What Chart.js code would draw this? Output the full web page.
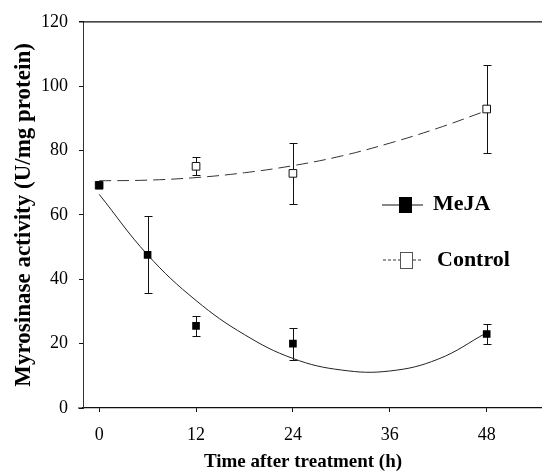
<!DOCTYPE html>
<html>
<head>
<meta charset="utf-8">
<script src="https://cdn.jsdelivr.net/npm/chart.js@4.4.0/dist/chart.umd.min.js"></script>
<style>
  body { margin: 0; background: #fff; }
  canvas { display: block; }
</style>
</head>
<body>
<canvas id="myroChart" width="542" height="472"></canvas>
<script>
// valores
const mejaTimes = [0, 6, 12, 24, 48];
const mejaValues = [69.2, 47.6, 25.5, 20, 23];
const mejaErrors = [0, 12, 3.1, 5, 3];

const controlTimes = [0, 12, 24, 48];
const controlValues = [69.2, 75.1, 72.9, 92.9];
const controlErrors = [0, 2.8, 9.4, 13.7];

// curvas de ajuste
const fitTimes = [0, 6, 12, 18, 24, 30, 36, 42, 48];
const mejaFit = [66.4, 47.6, 33.4, 22.8, 15.4, 11.8, 11.5, 15.2, 23.4];
const controlFit = [70.6, 70.8, 71.6, 73.1, 75.3, 78.3, 82.3, 87, 92.4];

const xTicks = [0, 12, 24, 36, 48];
const yTicks = [0, 20, 40, 60, 80, 100, 120];

const serif = '"Liberation Serif", "Times New Roman", serif';

function toPoints(xs, ys) {
    return xs.map((x, i) => ({ x: x, y: ys[i] }));
}

// barras de error
const errorBars = {
    id: 'errorBars',
    beforeDatasetsDraw(chart) {
        const { ctx, scales } = chart;
        const groups = [
            [controlTimes, controlValues, controlErrors],
            [mejaTimes, mejaValues, mejaErrors]
        ];
        ctx.save();
        ctx.strokeStyle = '#111';
        ctx.lineWidth = 1;
        groups.forEach(([xs, ys, es]) => {
            xs.forEach((t, i) => {
                if (!es[i]) return;
                const x = Math.round(scales.x.getPixelForValue(t)) + 0.5;
                const top = Math.round(scales.y.getPixelForValue(ys[i] + es[i])) + 0.5;
                const bot = Math.round(scales.y.getPixelForValue(ys[i] - es[i])) + 0.5;
                ctx.beginPath();
                ctx.moveTo(x, top); ctx.lineTo(x, bot);
                ctx.moveTo(x - 4, top); ctx.lineTo(x + 4, top);
                ctx.moveTo(x - 4, bot); ctx.lineTo(x + 4, bot);
                ctx.stroke();
            });
        });
        ctx.restore();
    }
};

// marco superior, título del eje x y leyenda
const frameLegend = {
    id: 'frameLegend',
    afterDraw(chart) {
        const { ctx, chartArea } = chart;
        ctx.save();
        ctx.strokeStyle = '#111';
        ctx.lineWidth = 1.2;
        ctx.beginPath();
        ctx.moveTo(chartArea.left - 4, chartArea.top);
        ctx.lineTo(chartArea.right, chartArea.top);
        ctx.moveTo(chartArea.left - 5, chartArea.bottom);
        ctx.lineTo(chartArea.left, chartArea.bottom);
        ctx.stroke();

        ctx.fillStyle = '#000';
        ctx.font = 'bold 19px ' + serif;
        ctx.textAlign = 'center';
        ctx.textBaseline = 'alphabetic';
        ctx.fillText('Time after treatment (h)', 303, 467);

        // MeJA
        ctx.lineWidth = 1;
        ctx.beginPath();
        ctx.moveTo(382, 205); ctx.lineTo(423, 205);
        ctx.stroke();
        ctx.fillRect(399, 197, 13, 16);

        // Control
        ctx.setLineDash([3, 2]);
        ctx.strokeStyle = '#333';
        ctx.beginPath();
        ctx.moveTo(383, 260); ctx.lineTo(423, 260);
        ctx.stroke();
        ctx.setLineDash([]);
        ctx.fillStyle = '#fff';
        ctx.fillRect(400, 252, 12, 16);
        ctx.strokeStyle = '#555';
        ctx.strokeRect(400.5, 252.5, 12, 16);

        ctx.fillStyle = '#000';
        ctx.font = 'bold 22px ' + serif;
        ctx.textAlign = 'left';
        ctx.textBaseline = 'middle';
        ctx.fillText('MeJA', 433, 204);
        ctx.fillText('Control', 437, 260);
        ctx.restore();
    }
};

const ctx = document.getElementById('myroChart').getContext('2d');
const myroChart = new Chart(ctx, {
    type: 'scatter',
    data: {
        datasets: [{
            label: 'MeJA',
            data: toPoints(mejaTimes, mejaValues),
            pointStyle: 'rect',
            pointRadius: 5.4,
            backgroundColor: '#000',
            borderColor: '#000',
            borderWidth: 0
        }, {
            label: 'Control',
            data: toPoints(controlTimes, controlValues),
            pointStyle: 'rect',
            pointRadius: 5.4,
            backgroundColor: '#fff',
            borderColor: '#111',
            borderWidth: 1
        }, {
            label: 'MeJA fit',
            data: toPoints(fitTimes, mejaFit),
            showLine: true,
            pointRadius: 0,
            tension: 0.4,
            borderColor: '#222',
            borderWidth: 1
        }, {
            label: 'Control fit',
            data: toPoints(fitTimes, controlFit),
            showLine: true,
            pointRadius: 0,
            tension: 0.4,
            borderColor: '#333',
            borderWidth: 1,
            borderDash: [12, 6]
        }]
    },
    options: {
        responsive: false,
        animation: false,
        devicePixelRatio: 1,
        layout: { autoPadding: false, padding: { top: 19, right: 0, left: 0, bottom: 0 } },
        plugins: {
            legend: { display: false },
            tooltip: { enabled: false }
        },
        scales: {
            x: {
                type: 'linear',
                min: -2,
                max: 54.85,
                afterBuildTicks: axis => { axis.ticks = xTicks.map(v => ({ value: v })); },
                afterFit: scale => { scale.height = 64; },
                border: { color: '#111', width: 1.2 },
                grid: { drawOnChartArea: false, drawTicks: true, tickLength: 4, color: '#111' },
                ticks: { color: '#000', padding: 12, font: { family: serif, size: 18 } }
            },
            y: {
                min: 0,
                max: 120,
                afterBuildTicks: axis => { axis.ticks = yTicks.map(v => ({ value: v })); },
                afterFit: scale => { scale.width = 83; },
                border: { color: '#333', width: 1 },
                grid: { drawOnChartArea: false, drawTicks: true, tickLength: 4, color: '#111' },
                ticks: { color: '#000', padding: 11, font: { family: serif, size: 18 } },
                title: {
                    display: true,
                    text: 'Myrosinase activity (U/mg protein)',
                    color: '#000',
                    padding: { top: 10, bottom: 0 },
                    font: { family: serif, size: 23, weight: 'bold' }
                }
            }
        }
    },
    plugins: [errorBars, frameLegend]
});
</script>
</body>
</html>
